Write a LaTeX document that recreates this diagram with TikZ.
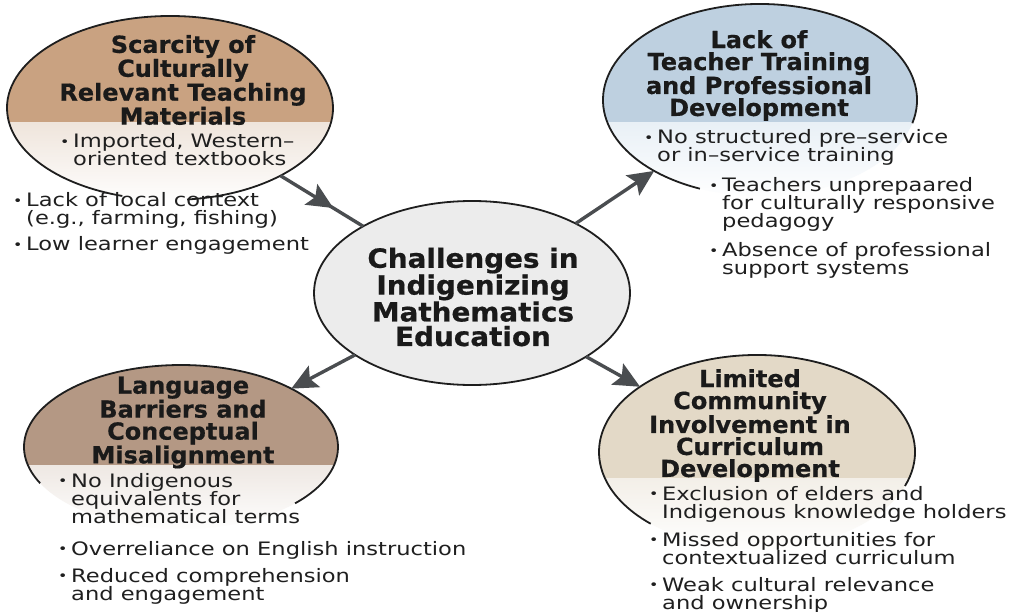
\documentclass[tikz,border=0pt]{standalone}
\usepackage{fontspec}
\setmainfont{DejaVu Sans}
\newfontfamily\bodyfont{DejaVu Sans}[FakeStretch=1.22]
\newfontfamily\headfont{DejaVu Sans}[FakeStretch=1.02,BoldFeatures={FakeBold=0.6}]
\newfontfamily\cheadfont{DejaVu Sans}[FakeStretch=1.05,BoldFeatures={FakeBold=0.6}]
\usetikzlibrary{arrows.meta,shapes.geometric,decorations.markings}
\definecolor{tlTop}{HTML}{C9A281}
\definecolor{tlLow}{HTML}{EFE5DC}
\definecolor{trTop}{HTML}{BED0E0}
\definecolor{trLow}{HTML}{E9F0F6}
\definecolor{blTop}{HTML}{B49884}
\definecolor{blLow}{HTML}{EEE8E3}
\definecolor{brTop}{HTML}{E3D9C7}
\definecolor{brLow}{HTML}{F3EFE8}
\definecolor{cFill}{HTML}{ECECEC}
\definecolor{lineC}{HTML}{1E1E1E}
\definecolor{arrC}{HTML}{4A4D50}
\definecolor{txtC}{HTML}{1A1A1A}
\definecolor{bodyC}{HTML}{1F1F1F}
\newcommand{\bul}{\raisebox{1.5pt}{\fontsize{13}{13}\selectfont •}}
\newcommand{\bi}[1]{\parbox[t]{420pt}{\lineskiplimit=-20pt\raggedright\makebox[13pt][l]{\bul}#1}}
\newcommand{\nl}{\\\hspace*{13pt}}
\tikzset{
  ell/.style 2 args={ellipse, inner sep=0pt, outer sep=0pt, minimum width=#1, minimum height=#2},
  outl/.style={draw=lineC, line width=1.8pt},
  tip/.style={-{Stealth[length=26pt,width=24pt,inset=5pt]}},
  arr/.style={draw=arrC, color=arrC, line width=3.4pt, tip},
  arrm/.style={draw=arrC, color=arrC, line width=3.4pt, postaction={decorate},
    decoration={markings, mark=at position 0.64 with {\arrow{Stealth[length=26pt,width=24pt,inset=5pt]}}}},
  ttl/.style={font=\headfont\bfseries\fontsize{23.5}{22}\selectfont, align=center, text=txtC, inner sep=0pt},
  ctl/.style={font=\cheadfont\bfseries\fontsize{26.5}{24.5}\selectfont, align=center, text=txtC, inner sep=0pt},
  itm/.style={font=\bodyfont\fontsize{18.5}{18}\selectfont, anchor=base west, inner sep=0pt, text=bodyC}
}
\begin{document}
\begin{tikzpicture}[x=1pt,y=-1pt]
\useasboundingbox (0,0) rectangle (1014,612);
\fill[white] (0,0) rectangle (1014,612);

% ---------- top left ----------
\node[ell={326pt}{184pt}] (tl) at (170,108) {};
\begin{scope}
  \clip (tl.center) ellipse [x radius=163pt, y radius=92pt];
  \fill[tlTop] (0,0) rectangle (340,123);
  \shade[top color=tlLow, bottom color=white] (0,123) rectangle (340,205);
\end{scope}
\draw[outl] (tl.center) ++(-84:163pt and 92pt) arc[start angle=-84, end angle=253, x radius=163pt, y radius=92pt];

% ---------- top right ----------
\node[ell={314pt}{192pt}] (tr) at (760,100) {};
\begin{scope}
  \clip (tr.center) ellipse [x radius=157pt, y radius=96pt];
  \fill[trTop] (590,0) rectangle (930,123);
  \shade[top color=trLow, bottom color=white] (590,123) rectangle (930,200);
\end{scope}
\draw[outl] (tr.center) ++(-14:157pt and 96pt) arc[start angle=-14, end angle=247.5, x radius=157pt, y radius=96pt];

% ---------- bottom left ----------
\node[ell={314pt}{164pt}] (bl) at (181,447) {};
\begin{scope}
  \clip (bl.center) ellipse [x radius=157pt, y radius=82pt];
  \fill[blTop] (0,350) rectangle (350,465);
  \shade[top color=blLow, bottom color=white] (0,465) rectangle (350,532);
\end{scope}
\draw[outl] (bl.center) ++(-43.4:157pt and 82pt) arc[start angle=-43.4, end angle=206.2, x radius=157pt, y radius=82pt];

% ---------- bottom right ----------
\node[ell={316pt}{194pt}] (br) at (757,452) {};
\begin{scope}
  \clip (br.center) ellipse [x radius=158pt, y radius=97pt];
  \fill[brTop] (590,350) rectangle (930,478);
  \shade[top color=brLow, bottom color=white] (590,478) rectangle (930,552);
\end{scope}
\draw[outl] (br.center) ++(-20.5:158pt and 97pt) arc[start angle=-20.5, end angle=227.7, x radius=158pt, y radius=97pt];

% ---------- centre ----------
\node[ell={316pt}{184pt}, draw=lineC, line width=1.8pt, fill=cFill] (c) at (472,293) {};

% ---------- connectors ----------
\draw[arrm] (tl) -- (c);
\draw[arr] (c) -- (tr);
\draw[arr] (c) -- (bl);
\draw[arr] (c) -- (br);

% ---------- titles ----------
\node[ttl] (tlt) at (183,80) {Scarcity of\\Culturally\\Relevant Teaching\\Materials};
\node[ttl] (trt) at (759,75.5) {Lack of\\Teacher Training\\and Professional\\Development};
\node[ttl] (blt) at (183,422.5) {Language\\Barriers and\\Conceptual\\Misalignment};
\node[ttl] (brt) at (750,425.5) {Limited\\Community\\Involvement in\\Curriculum\\Development};
\node[ctl] (ct) at (473,297) {Challenges in\\Indigenizing\\Mathematics\\Education};

% ---------- bullet items ----------
\node[itm] (tl1) at (60,148) {\bi{Imported, Western–\nl oriented textbooks}};
\node[itm] (tl2) at (13,207) {\bi{Lack of local context\nl (e.g., farming, fishing)}};
\node[itm] (tl3) at (13,251) {\bi{Low learner engagement}};

\node[itm] (tr1) at (644,144) {\bi{No structured pre–service\nl or in–service training}};
\node[itm] (tr2) at (709,192) {\bi{Teachers unprepaared\nl for culturally responsive\nl pedagogy}};
\node[itm] (tr3) at (709,257) {\bi{Absence of professional\nl support systems}};

\node[itm] (bl1) at (58,487) {\bi{No Indigenous\nl equivalents for\nl mathematical terms}};
\node[itm] (bl2) at (58,555) {\bi{Overreliance on English instruction}};
\node[itm] (bl3) at (58,582) {\bi{Reduced comprehension\nl and engagement}};

\node[itm] (br1) at (649,500) {\bi{Exclusion of elders and\nl Indigenous knowledge holders}};
\node[itm] (br2) at (649,546) {\bi{Missed opportunities for\nl contextualized curriculum}};
\node[itm] (br3) at (649,591) {\bi{Weak cultural relevance\nl and ownership}};
\end{tikzpicture}
\end{document}
